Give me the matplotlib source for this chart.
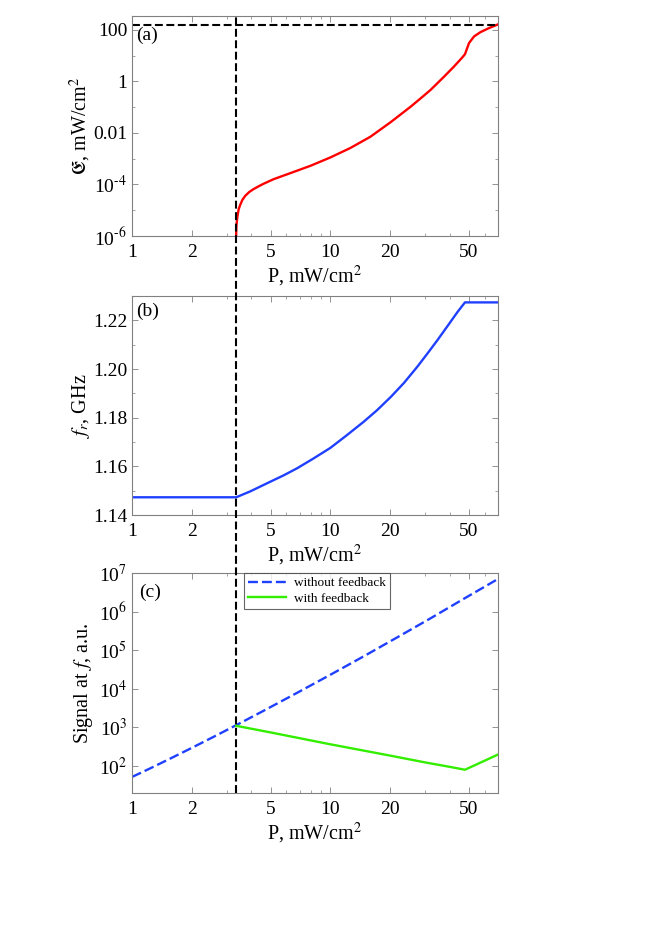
import matplotlib
matplotlib.use("Agg")
import matplotlib.pyplot as plt
from matplotlib.lines import Line2D
from matplotlib.ticker import FixedLocator, FuncFormatter, MultipleLocator, NullFormatter
import numpy as np

# threshold power (vertical dashed line) and saturation level in (a)
p_thr = 3.35
e_sat = 160

# (a) field amplitude vs pump power
p_a = [3.35, 3.355, 3.36, 3.40, 3.45, 3.51, 3.6, 3.72, 3.9, 4.10, 4.35, 4.61, 5.17, 6.28,
       7.93, 10, 12.6, 15.9, 20.1, 25.4, 28.5, 32, 37.3, 42, 46, 47.7, 50, 53, 57.2, 63, 70]
e_a = [1e-6, 1.8e-6, 2.5e-6, 5.8e-6, 1.1e-5, 1.6e-5, 2.5e-5, 3.6e-5, 5.1e-5, 6.6e-5,
       8.5e-5, 1.07e-4, 1.6e-4, 2.75e-4, 5.3e-4, 1.12e-3, 2.6e-3, 7.1e-3, 0.026, 0.105,
       0.22, 0.47, 1.5, 3.8, 8.2, 11.4, 31, 56, 83, 118, 165]

# (b) relaxation frequency
p_b = [1, 3.35, 3.94, 4.98, 5.81, 6.79, 8.24, 10, 12.1, 14.7, 17.2, 20.2, 23.5, 27.4,
       30.8, 34.6, 38.9, 43.7, 47.7, 70]
f_b = [1.1473, 1.1473, 1.1497, 1.1537, 1.1563, 1.1592, 1.1633, 1.1676, 1.1728, 1.1783,
       1.1831, 1.1886, 1.1943, 1.2009, 1.2063, 1.2118, 1.2176, 1.2234, 1.2274, 1.2274]

# (c) signal at f
p_c1 = [1, 1.23, 1.56, 2, 2.57, 3.35, 4.61, 6.79, 10, 14.7, 21.8, 32, 47.1, 70]
s_without = [52, 86, 156, 294, 565, 1140, 2700, 7840, 2.31e4, 6.9e4, 2.17e5, 6.7e5, 2.15e6, 7.0e6]
p_c2 = [3.35, 5, 10, 20, 30, 40, 47.7, 70]
s_with = [1100, 740, 365, 186, 124, 95, 80, 198]

x_major = [1, 2, 5, 10, 20, 50]
x_minor = [3, 4, 6, 7, 8, 9, 30, 40, 60, 70]

plt.rcParams['font.family'] = ['Liberation Serif', 'DejaVu Serif']
plt.rcParams['mathtext.fontset'] = 'stix'
plt.rcParams['axes.edgecolor'] = '#808080'
plt.rcParams['xtick.color'] = '#808080'
plt.rcParams['ytick.color'] = '#808080'
plt.rcParams['xtick.labelcolor'] = 'black'
plt.rcParams['ytick.labelcolor'] = 'black'

fig = plt.figure(figsize=(6.64, 9.39), dpi=100)

left, width = 0.1988, 0.5512
ax1 = fig.add_axes([left, 0.7487, width, 0.2343])
ax2 = fig.add_axes([left, 0.4515, width, 0.2332])
ax3 = fig.add_axes([left, 0.1555, width, 0.2343])

LAB = 14.5
TCK = 14


def style_x(ax):
    ax.set_xscale('log')
    ax.set_xlim(1, 70)
    ax.xaxis.set_major_locator(FixedLocator(x_major))
    ax.xaxis.set_minor_locator(FixedLocator(x_minor))
    ax.xaxis.set_major_formatter(FuncFormatter(lambda v, pos: '%g' % v))
    ax.xaxis.set_minor_formatter(NullFormatter())
    ax.tick_params(which='both', direction='in', top=True, right=True, labelsize=TCK)
    ax.tick_params(which='major', length=4, width=0.6)
    ax.tick_params(which='minor', length=2, width=0.5)
    ax.tick_params(axis='x', pad=6)
    ax.set_xlabel('P, mW/cm$^2$', fontsize=LAB, labelpad=2)
    for s in ax.spines.values():
        s.set_linewidth(0.8)


def pow_label(v, pos):
    e = int(round(np.log10(v)))
    if e < 0:
        return '10$^{\u2010%d}$' % (-e)
    return '10$^{%d}$' % e


# (a)
ax1.plot(p_a, e_a, color='#ff0000', lw=1.7)
ax1.axhline(e_sat, color='black', lw=1.5, dashes=(3.8, 1.7))
style_x(ax1)
ax1.set_yscale('log')
ax1.set_ylim(1e-6, 350)
ax1.yaxis.set_major_locator(FixedLocator([1e-6, 1e-4, 1e-2, 1, 100]))
ax1.yaxis.set_minor_locator(FixedLocator([1e-5, 1e-3, 1e-1, 10]))
a_names = {-2: '0.01', 0: '1', 2: '100'}
ax1.yaxis.set_major_formatter(FuncFormatter(
    lambda v, pos: a_names.get(int(round(np.log10(v))), pow_label(v, pos))))
ax1.yaxis.set_minor_formatter(NullFormatter())
ax1.set_ylabel(r'$\mathfrak{E}$, mW/cm$^2$', fontsize=LAB)
ax1.yaxis.set_label_coords(-0.106, 0.5)
ax1.text(0.012, 0.95, '(a)', transform=ax1.transAxes, fontsize=14, va='top')

# (b)
ax2.plot(p_b, f_b, color='#2040ff', lw=1.7)
style_x(ax2)
ax2.set_ylim(1.14, 1.23)
ax2.yaxis.set_major_locator(MultipleLocator(0.02))
ax2.yaxis.set_minor_locator(MultipleLocator(0.01))
ax2.yaxis.set_major_formatter(FuncFormatter(lambda v, pos: '%.2f' % v))
ax2.set_ylabel('$f_r$, GHz', fontsize=LAB)
ax2.yaxis.set_label_coords(-0.11, 0.5)
ax2.text(0.012, 0.97, '(b)', transform=ax2.transAxes, fontsize=14, va='top')

# (c)
ax3.plot(p_c1, s_without, color='#2040ff', lw=1.7, dashes=(4.2, 1.7), label='without feedback')
ax3.plot(p_c2, s_with, color='#33ee00', lw=1.7, label='with feedback')
style_x(ax3)
ax3.set_yscale('log')
ax3.set_ylim(20, 1e7)
ax3.yaxis.set_major_locator(FixedLocator([1e2, 1e3, 1e4, 1e5, 1e6, 1e7]))
ax3.yaxis.set_major_formatter(FuncFormatter(pow_label))
ax3.set_ylabel('Signal at $f$, a.u.', fontsize=LAB)
ax3.yaxis.set_label_coords(-0.10, 0.5)
ax3.text(0.02, 0.95, '(c)', transform=ax3.transAxes, fontsize=14, va='top')
leg = ax3.legend(loc='upper left', bbox_to_anchor=(0.306, 1.0), borderaxespad=0,
                 fontsize=9.5, fancybox=False, handlelength=2.9, borderpad=0.3,
                 labelspacing=0.25, handletextpad=0.6)
leg.get_frame().set_edgecolor('#404040')
leg.get_frame().set_linewidth(0.8)

# vertical threshold line through all panels
xd = ax1.transData.transform((p_thr, 1))[0]
xf = fig.transFigure.inverted().transform((xd, 0))[0]
y_top = ax1.get_position().y1
y_bot = ax3.get_position().y0
fig.add_artist(Line2D([xf, xf], [y_bot, y_top], transform=fig.transFigure,
                      color='black', lw=1.5, dashes=(3.8, 1.7)))

fig.savefig('out.png', dpi=100)
